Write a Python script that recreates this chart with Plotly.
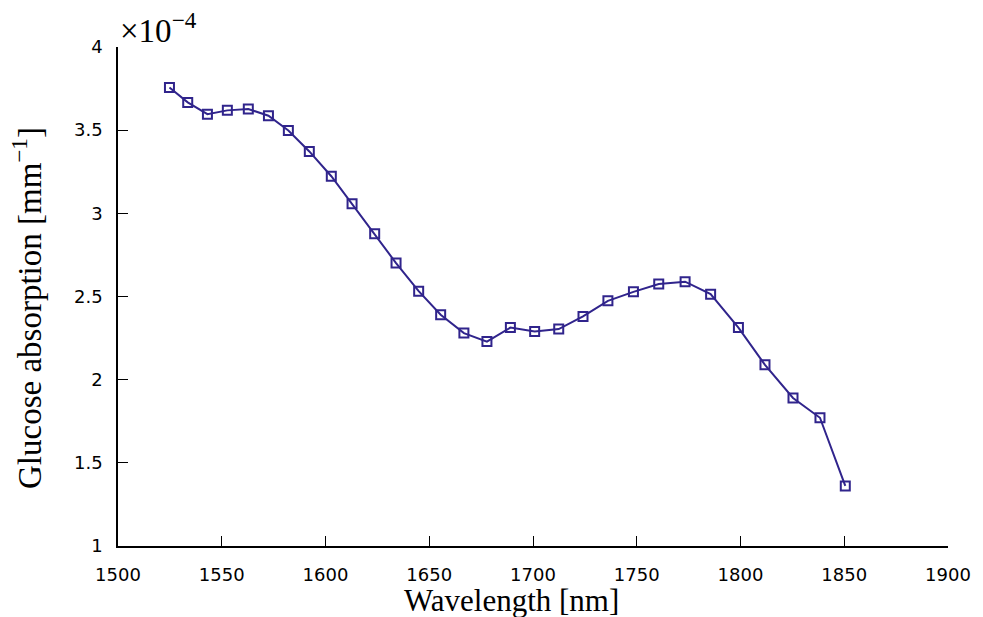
import plotly.graph_objects as go

wavelength_nm = [1524.8, 1533.6, 1543.1, 1552.7, 1562.8, 1572.5, 1582.1, 1592.2,
                 1602.8, 1612.8, 1623.7, 1634.0, 1644.9, 1655.5, 1666.7, 1677.8,
                 1689.1, 1700.8, 1712.4, 1724.1, 1736.1, 1748.4, 1760.6, 1773.3,
                 1785.6, 1799.0, 1811.8, 1825.3, 1838.3, 1850.5]
absorption_e4 = [3.757, 3.667, 3.596, 3.619, 3.627, 3.587, 3.498, 3.372,
                 3.223, 3.057, 2.878, 2.701, 2.532, 2.390, 2.280, 2.229,
                 2.313, 2.289, 2.304, 2.380, 2.474, 2.528, 2.575, 2.589,
                 2.514, 2.313, 2.089, 1.890, 1.771, 1.361]
x_ticks = [1500, 1550, 1600, 1650, 1700, 1750, 1800, 1850, 1900]
y_ticks = [1, 1.5, 2, 2.5, 3, 3.5, 4]
y_tick_text = ["1", "1.5", "2", "2.5", "3", "3.5", "4"]

color = "#30248c"
serif = "Liberation Serif, DejaVu Serif, serif"
sans = "DejaVu Sans, sans-serif"

fig = go.Figure(go.Scatter(
    x=wavelength_nm, y=absorption_e4, mode="lines+markers",
    line=dict(color=color, width=2),
    marker=dict(symbol="square-open", size=9, color=color, line=dict(width=2, color=color)),
    showlegend=False,
))

fig.update_layout(
    width=983, height=617,
    margin=dict(l=110, r=43, t=39, b=79),
    paper_bgcolor="white", plot_bgcolor="white",
    xaxis=dict(
        range=[1500, 1900], tickvals=x_ticks, ticktext=[str(v) for v in x_ticks],
        ticks="inside", ticklen=10, tickwidth=1, tickcolor="black",
        showline=True, linecolor="black", linewidth=1.5, mirror=False,
        showgrid=False, zeroline=False, automargin=False,
        tickfont=dict(family=sans, size=18, color="black"),
        ticklabelstandoff=12,
    ),
    yaxis=dict(
        range=[1, 4], tickvals=y_ticks, ticktext=y_tick_text,
        ticks="inside", ticklen=10, tickwidth=1, tickcolor="black",
        showline=True, linecolor="black", linewidth=1.5, mirror=False,
        showgrid=False, zeroline=False, automargin=False,
        tickfont=dict(family=sans, size=18, color="black"),
        ticklabelstandoff=10,
    ),
    annotations=[
        dict(
            text="×10<sup>−4</sup>", xref="paper", yref="paper", x=0.0, y=1.0,
            xanchor="left", yanchor="bottom", showarrow=False, xshift=0, yshift=-4,
            font=dict(family=serif, size=33, color="black"),
        ),
        dict(
            text="Wavelength [nm]", xref="paper", yref="paper", x=0.4735, y=0.0,
            xanchor="center", yanchor="middle", showarrow=False, yshift=-54,
            font=dict(family=serif, size=31, color="black"),
        ),
        dict(
            text="Glucose absorption [mm<sup>−1</sup>]", xref="paper", yref="paper",
            x=0.0, y=0.477, xanchor="center", yanchor="middle", textangle=-90,
            showarrow=False, xshift=-91,
            font=dict(family=serif, size=33, color="black"),
        ),
    ],
)

fig.write_html("out.html")
